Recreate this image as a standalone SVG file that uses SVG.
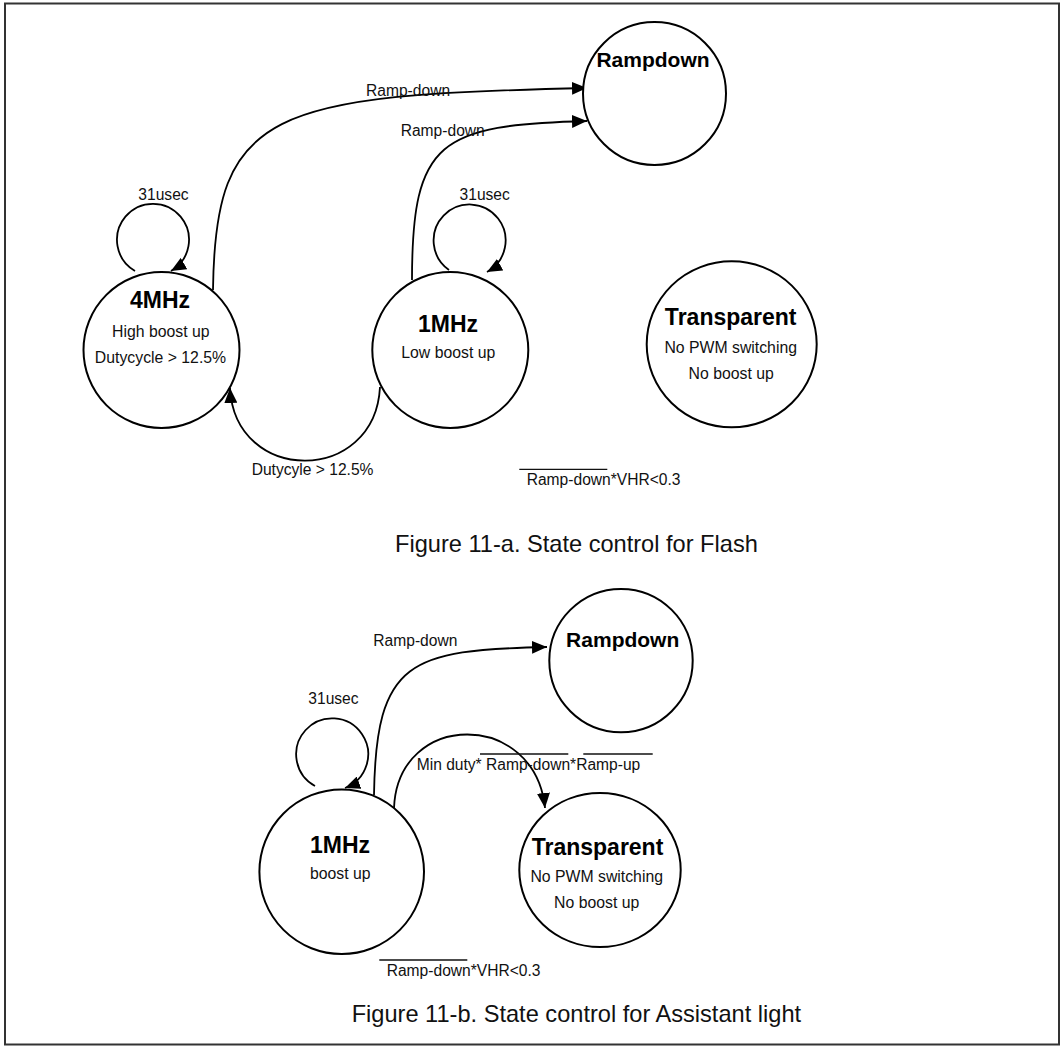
<svg xmlns="http://www.w3.org/2000/svg" width="1062" height="1046" viewBox="0 0 1062 1046">
<style>
  .node { fill: #fff; stroke: #000; stroke-width: 2; }
  .edge { fill: none; stroke: #000; stroke-width: 1.8; marker-end: url(#arrow); }
  .title { font-family: "Liberation Sans", Arial, sans-serif; font-weight: bold; font-size: 22px; fill: #000; text-anchor: middle; }
  .sub { font-family: "Liberation Sans", Arial, sans-serif; font-size: 15.8px; fill: #111; text-anchor: middle; }
  .lbl { font-family: "Liberation Sans", Arial, sans-serif; font-size: 15.6px; fill: #111; }
  .cap { font-family: "Liberation Sans", Arial, sans-serif; font-size: 23.6px; fill: #111; }
  .over { stroke: #111; stroke-width: 1.3; }
</style>
<defs>
  <marker id="arrow" markerUnits="userSpaceOnUse" markerWidth="16" markerHeight="13" refX="15" refY="6.5" orient="auto">
    <path d="M0,0 L15,6.5 L0,13 z" fill="#000"/>
  </marker>
</defs>
<rect x="5" y="3.5" width="1054" height="1041" fill="#fff" stroke="#333" stroke-width="2"/>

<g id="connectors">
  <path class="edge" d="M 213 290 C 215 110, 270 95, 587 88"/>
  <path class="edge" d="M 412 280 C 412 140, 440 125, 587 121"/>
  <path class="edge" d="M 135 271 A 36 36 0 1 1 171 271"/>
  <path class="edge" d="M 449 270 A 36 36 0 1 1 487 272"/>
  <path class="edge" d="M 380 387 C 375 485, 235 485, 230 388"/>
  <path class="edge" d="M 374 795 C 376 660, 410 650, 547 647"/>
  <path class="edge" d="M 315 786 A 36 36 0 1 1 345 788"/>
  <path class="edge" d="M 394 808 C 398 710, 535 710, 545 808"/>
</g>

<g id="labels">
  <text class="lbl" x="163.5" y="200" text-anchor="middle">31usec</text>
  <text class="lbl" x="484.7" y="200" text-anchor="middle">31usec</text>
  <text class="lbl" x="366" y="96">Ramp-down</text>
  <text class="lbl" x="400.7" y="135.5">Ramp-down</text>
  <text class="lbl" x="251.7" y="475">Dutycyle &gt; 12.5%</text>
  <line class="over" x1="519.3" y1="469.3" x2="607.3" y2="469.3"/>
  <text class="lbl" x="526.7" y="485">Ramp-down*VHR&lt;0.3</text>
  <text class="cap" x="395" y="551.5">Figure 11-a. State control for Flash</text>

  <text class="lbl" x="373.3" y="645.7">Ramp-down</text>
  <text class="lbl" x="308.3" y="704">31usec</text>
  <line class="over" x1="480" y1="754" x2="568.3" y2="754"/>
  <line class="over" x1="583.3" y1="754" x2="652.7" y2="754"/>
  <text class="lbl" x="416.7" y="770">Min duty* Ramp-down*Ramp-up</text>
  <line class="over" x1="379.3" y1="960" x2="467.3" y2="960"/>
  <text class="lbl" x="386.7" y="975.7">Ramp-down*VHR&lt;0.3</text>
  <text class="cap" x="351.7" y="1021.7">Figure 11-b. State control for Assistant light</text>
</g>

<g id="node-a-rampdown">
  <circle class="node" cx="654.5" cy="93.5" r="71.5"/>
  <text class="title" x="653" y="67" style="font-size:21px">Rampdown</text>
</g>
<g id="node-a-4mhz">
  <circle class="node" cx="161.5" cy="350" r="78"/>
  <text class="title" x="160" y="308" style="font-size:23px">4MHz</text>
  <text class="sub" x="160.8" y="336.7">High boost up</text>
  <text class="sub" x="160.5" y="363">Dutycycle &gt; 12.5%</text>
</g>
<g id="node-a-1mhz">
  <circle class="node" cx="450.3" cy="350" r="78"/>
  <text class="title" x="448" y="331.7" style="font-size:23px">1MHz</text>
  <text class="sub" x="448.3" y="358.3">Low boost up</text>
</g>
<g id="node-a-transparent">
  <ellipse class="node" cx="731.7" cy="344.3" rx="85" ry="83"/>
  <text class="title" x="730.7" y="325" style="font-size:23px">Transparent</text>
  <text class="sub" x="730.7" y="352.7">No PWM switching</text>
  <text class="sub" x="731.2" y="379.3">No boost up</text>
</g>

<g id="node-b-rampdown">
  <circle class="node" cx="621" cy="660.6" r="71.7"/>
  <text class="title" x="622.7" y="647.3" style="font-size:21px">Rampdown</text>
</g>
<g id="node-b-1mhz">
  <circle class="node" cx="341.7" cy="871.7" r="82.3"/>
  <text class="title" x="340" y="852.7" style="font-size:23px">1MHz</text>
  <text class="sub" x="340.3" y="879">boost up</text>
</g>
<g id="node-b-transparent">
  <ellipse class="node" cx="600" cy="870" rx="80.7" ry="77"/>
  <text class="title" x="597.5" y="855" style="font-size:23px">Transparent</text>
  <text class="sub" x="596.7" y="881.7">No PWM switching</text>
  <text class="sub" x="596.7" y="908.3">No boost up</text>
</g>
</svg>
